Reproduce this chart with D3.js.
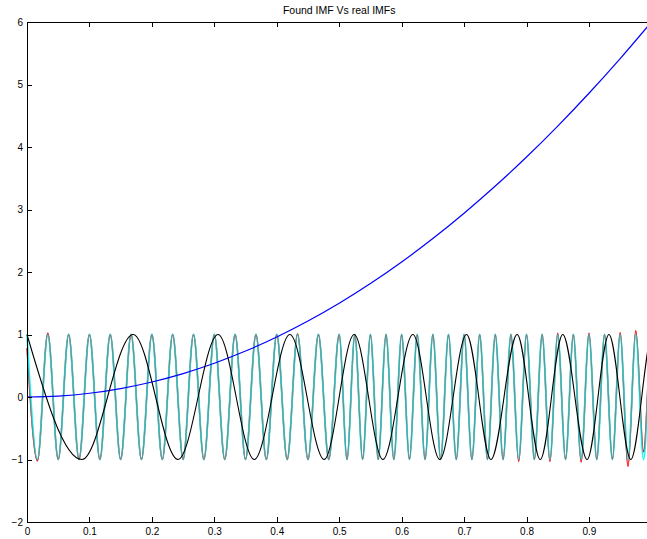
<!DOCTYPE html>
<html>
<head>
<meta charset="utf-8">
<title>Found IMF Vs real IMFs</title>
<style>
    body { margin: 0; background: #fff; }
    svg text { font-family: "Liberation Sans", Arial, sans-serif; fill: #000; }
    .axis path, .axis line { stroke: #000; stroke-width: 1; shape-rendering: crispEdges; }
</style>
<script src="https://d3js.org/d3.v7.min.js"></script>
</head>
<body>
<script>
// ticks
var xTicks = [0, 0.1, 0.2, 0.3, 0.4, 0.5, 0.6, 0.7, 0.8, 0.9];
var yTicks = [-2, -1, 0, 1, 2, 3, 4, 5, 6];

// trend (blue), read every 0.05
var trendX = [0, 0.05, 0.1, 0.15, 0.2, 0.25, 0.3, 0.35, 0.4, 0.45, 0.5, 0.55, 0.6, 0.65, 0.7, 0.75, 0.8, 0.85, 0.9, 0.95, 1.0];
var trendY = [0, 0.015, 0.06, 0.135, 0.24, 0.375, 0.54, 0.735, 0.96, 1.215, 1.5, 1.815, 2.16, 2.535, 2.94, 3.375, 3.84, 4.335, 4.86, 5.415, 6.0];

// slow chirp (black), peaks and troughs
var slowX = [0, 0.088, 0.170, 0.242, 0.306, 0.364, 0.421, 0.476, 0.524, 0.570, 0.618, 0.661, 0.704, 0.743, 0.785, 0.822, 0.858, 0.897, 0.932, 0.967, 1.002, 1.035];
var slowY = [1, -1, 1, -1, 1, -1, 1, -1, 1, -1, 1, -1, 1, -1, 1, -1, 1, -1, 1, -1, 1, -1];

// fast IMF, peaks and troughs (real = cyan, found = red)
var fastX = [0, 0.0167, 0.0333, 0.05, 0.0667, 0.0833, 0.1, 0.1167, 0.1333, 0.15,
    0.1667, 0.1833, 0.2, 0.2167, 0.2333, 0.25, 0.2667, 0.2833, 0.3, 0.3167,
    0.3333, 0.35, 0.3667, 0.3833, 0.4, 0.4167, 0.4333, 0.45, 0.4667, 0.4833,
    0.5, 0.5125, 0.525, 0.5375, 0.55, 0.5625, 0.575, 0.5875, 0.6, 0.6125,
    0.625, 0.6375, 0.65, 0.6625, 0.675, 0.6875, 0.7, 0.7125, 0.725, 0.7375,
    0.75, 0.7625, 0.775, 0.7875, 0.8, 0.8125, 0.825, 0.8375, 0.85, 0.8625,
    0.875, 0.8875, 0.9, 0.9125, 0.925, 0.9375, 0.95, 0.9625, 0.975, 0.9875, 1.0, 1.0125];
var realY = [1, -1, 1, -1, 1, -1, 1, -1, 1, -1,
    1, -1, 1, -1, 1, -1, 1, -1, 1, -1,
    1, -1, 1, -1, 1, -1, 1, -1, 1, -1,
    1, -1, 1, -1, 1, -1, 1, -1, 1, -1,
    1, -1, 1, -1, 1, -1, 1, -1, 1, -1,
    1, -1, 1, -1, 1, -1, 1, -1, 1, -1,
    1, -1, 1, -1, 1, -1, 1, -1, 1, -1, 1, -1];
var foundY = [0.78, -1.02, 1.02, -1, 1, -1, 1, -1, 1, -1,
    1, -1, 1, -1, 1, -1, 1, -1, 1, -1,
    1, -1, 1, -1, 1, -1, 1.01, -1, 1, -1,
    1, -1, 1, -1, 1, -1, 1, -1, 1, -1,
    1, -1, 1, -1, 1, -1, 1, -1, 1, -1,
    1, -1, 1, -1.03, 1, -1, 1, -1.03, 1.02, -1,
    1, -1.04, 1.02, -1, 1, -1, 1.03, -1.11, 1.06, -0.88, 1, -1];

var width = 647;
var height = 539;
var padL = 27, padT = 22, padB = 522;
var padR = 651.4;   // x = 1 falls just outside the window

var x = d3.scaleLinear().domain([0, 1]).range([padL, padR]);
var y = d3.scaleLinear().domain([-2, 6]).range([padB, padT]);

var svg = d3.select("body")
    .append("svg")
    .attr("width", width)
    .attr("height", height);

function pts(xs, ys) {
    return xs.map(function(d, i) { return [d, ys[i]]; });
}

var waveLine = d3.line()
    .x(function(d) { return x(d[0]); })
    .y(function(d) { return y(d[1]); })
    .curve(d3.curveMonotoneX);

var smoothLine = d3.line()
    .x(function(d) { return x(d[0]); })
    .y(function(d) { return y(d[1]); })
    .curve(d3.curveCatmullRom);

var g = svg.append("g");

// found IMF underneath so its overshoots stay saturated red
g.append("path")
    .attr("d", waveLine(pts(fastX, foundY)))
    .attr("fill", "none")
    .attr("stroke", "#ff0000")
    .attr("stroke-width", 1.4);

g.append("path")
    .attr("d", waveLine(pts(fastX, realY)))
    .attr("fill", "none")
    .attr("stroke", "#00ffff")
    .attr("stroke-width", 1.8);

// same found IMF again, half see-through, gives the grey mix
g.append("path")
    .attr("d", waveLine(pts(fastX, foundY)))
    .attr("fill", "none")
    .attr("stroke", "#ff0000")
    .attr("stroke-opacity", 0.45)
    .attr("stroke-width", 1);

g.append("path")
    .attr("d", smoothLine(pts(trendX, trendY)))
    .attr("fill", "none")
    .attr("stroke", "#0000ff")
    .attr("stroke-width", 1.2);

g.append("path")
    .attr("d", waveLine(pts(slowX, slowY)))
    .attr("fill", "none")
    .attr("stroke", "#000")
    .attr("stroke-width", 1.1);

// axes, ticks pointing inward
svg.append("g")
    .attr("class", "axis")
    .attr("transform", "translate(0," + padB + ")")
    .call(d3.axisBottom(x).tickValues(xTicks).tickSize(-5).tickSizeOuter(0).tickPadding(6)
        .tickFormat(function(d) { return d === 0 ? "0" : d3.format(".1f")(d); }))
    .call(function(a) { a.selectAll("text").attr("font-size", 10); });

svg.append("g")
    .attr("class", "axis")
    .attr("transform", "translate(0," + padT + ")")
    .call(d3.axisTop(x).tickValues(xTicks).tickSize(-5).tickSizeOuter(0).tickFormat(""));

svg.append("g")
    .attr("class", "axis")
    .attr("transform", "translate(" + padL + ",0)")
    .call(d3.axisLeft(y).tickValues(yTicks).tickSize(-5).tickSizeOuter(0).tickPadding(4))
    .call(function(a) { a.selectAll("text").attr("font-size", 10); });

svg.append("text")
    .attr("x", (padL + padR) / 2)
    .attr("y", 14)
    .attr("text-anchor", "middle")
    .attr("font-size", 10.5)
    .text("Found IMF Vs real IMFs");
</script>
</body>
</html>
